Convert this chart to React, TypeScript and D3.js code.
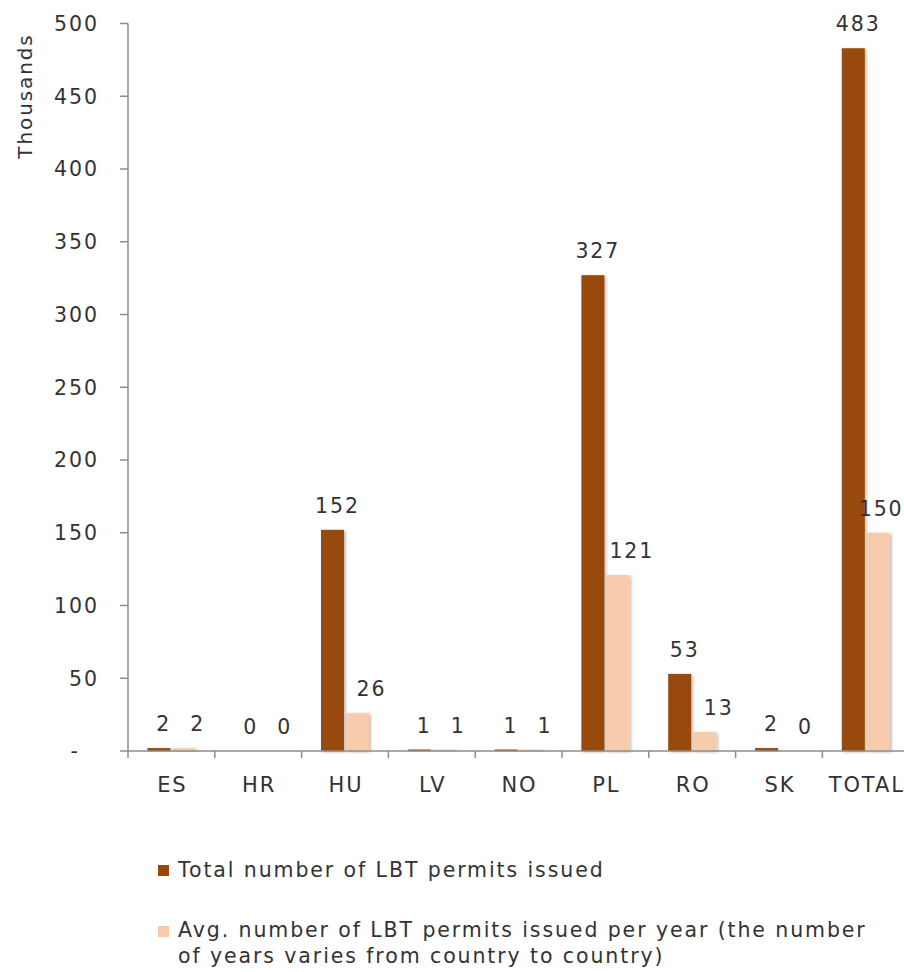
import React from "react";
import * as d3 from "d3";

const categories = ["ES", "HR", "HU", "LV", "NO", "PL", "RO", "SK", "TOTAL"];
const totalPermits = [2, 0, 152, 1, 1, 327, 53, 2, 483];
const avgPermits = [2, 0, 26, 1, 1, 121, 13, 0, 150];
const yTicks = [0, 50, 100, 150, 200, 250, 300, 350, 400, 450, 500];
const seriesNames = [
  "Total number of LBT permits issued",
  "Avg. number of LBT permits issued per year (the number",
];
const legendSecondLine = "of years varies from country to country)";

const W = 904;
const H = 972;
const FONT = "'DejaVu Sans', sans-serif";
const FS = 20.5;
const LS = 1.9;
const TEXT = "#333333";
const AXIS = "#8c8c8c";
const DARK = "#984807";
const LIGHT = "#F8CBAD";

export default function App() {
  const left = 128;
  const step = 86.8;
  const x = d3
    .scaleBand<string>()
    .domain(categories)
    .range([left, left + step * categories.length])
    .padding(0);
  const groupW = 48;
  const sub = d3
    .scaleBand<string>()
    .domain(["total", "avg"])
    .range([0, groupW])
    .paddingInner(0.08)
    .paddingOuter(0);
  const y = d3.scaleLinear().domain([0, 500]).range([751, 23.5]);
  const off = (x.bandwidth() - groupW) / 2;

  const series = [
    { key: "total", values: totalPermits, color: DARK, dx: 4 },
    { key: "avg", values: avgPermits, color: LIGHT, dx: 13 },
  ];

  const textProps = {
    fontSize: FS,
    fill: TEXT,
    letterSpacing: LS,
  };

  return (
    <svg
      width={W}
      height={H}
      style={{ position: "absolute", left: 0, top: 0, background: "#fff" }}
      fontFamily={FONT}
    >
      <defs>
        <filter id="sh" x="-30%" y="-10%" width="160%" height="130%">
          <feDropShadow dx="1.5" dy="1" stdDeviation="1.6" floodColor="#000" floodOpacity="0.3" />
        </filter>
      </defs>
      <rect width={W} height={H} fill="#fff" />

      {/* Y axis label */}
      <text
        transform={`translate(32,96) rotate(-90)`}
        textAnchor="middle"
        {...textProps}
        fontSize={20}
        letterSpacing={1.9}
      >
        Thousands
      </text>

      {/* Bars */}
      {series.map((s) =>
        categories.map((c, i) => {
          const bx = (x(c) as number) + off + (sub(s.key) as number);
          const by = y(s.values[i]);
          return (
            <rect
              key={s.key + c}
              x={bx}
              y={by}
              width={sub.bandwidth()}
              height={Math.max(0, y(0) - by)}
              fill={s.color}
              filter="url(#sh)"
            />
          );
        })
      )}

      {/* Y axis */}
      <line x1={left} x2={left} y1={y(500)} y2={y(0)} stroke={AXIS} strokeWidth={1.5} />
      {yTicks.map((t) => (
        <g key={t}>
          <line x1={left - 8} x2={left} y1={y(t)} y2={y(t)} stroke={AXIS} strokeWidth={1.5} />
          <text
            x={t === 0 ? 78 + LS : 97 + LS}
            y={y(t)}
            dy="0.36em"
            textAnchor="end"
            {...textProps}
          >
            {t === 0 ? "-" : t}
          </text>
        </g>
      ))}

      {/* X axis */}
      <line x1={left} x2={W + 10} y1={y(0)} y2={y(0)} stroke={AXIS} strokeWidth={1.5} />
      {categories.map((c) => (
        <g key={c}>
          <line
            x1={x(c) as number}
            x2={x(c) as number}
            y1={y(0)}
            y2={y(0) + 7}
            stroke={AXIS}
            strokeWidth={1.5}
          />
          <text
            x={(x(c) as number) + x.bandwidth() / 2 + LS / 2}
            y={792}
            textAnchor="middle"
            {...textProps}
            fontSize={21}
          >
            {c}
          </text>
        </g>
      ))}

      {/* Value labels */}
      {series.map((s) =>
        categories.map((c, i) => {
          const label = d3.format("d")(s.values[i]);
          const half = label.length * 7.6;
          const cx = (x(c) as number) + off + (sub(s.key) as number) + sub.bandwidth() / 2;
          const lx = Math.min(cx + s.dx, W - half - 1);
          return (
            <text
              key={"l" + s.key + c}
              x={lx + LS / 2}
              y={y(s.values[i]) - 17}
              textAnchor="middle"
              {...textProps}
            >
              {label}
            </text>
          );
        })
      )}

      {/* Legend */}
      <rect x={158} y={865} width={11} height={11} fill={DARK} />
      <text x={178} y={877} {...textProps}>
        {seriesNames[0]}
      </text>
      <rect x={158} y={926} width={11} height={11} fill={LIGHT} />
      <text x={178} y={937} {...textProps}>
        {seriesNames[1]}
      </text>
      <text x={178} y={963} {...textProps}>
        {legendSecondLine}
      </text>
    </svg>
  );
}
